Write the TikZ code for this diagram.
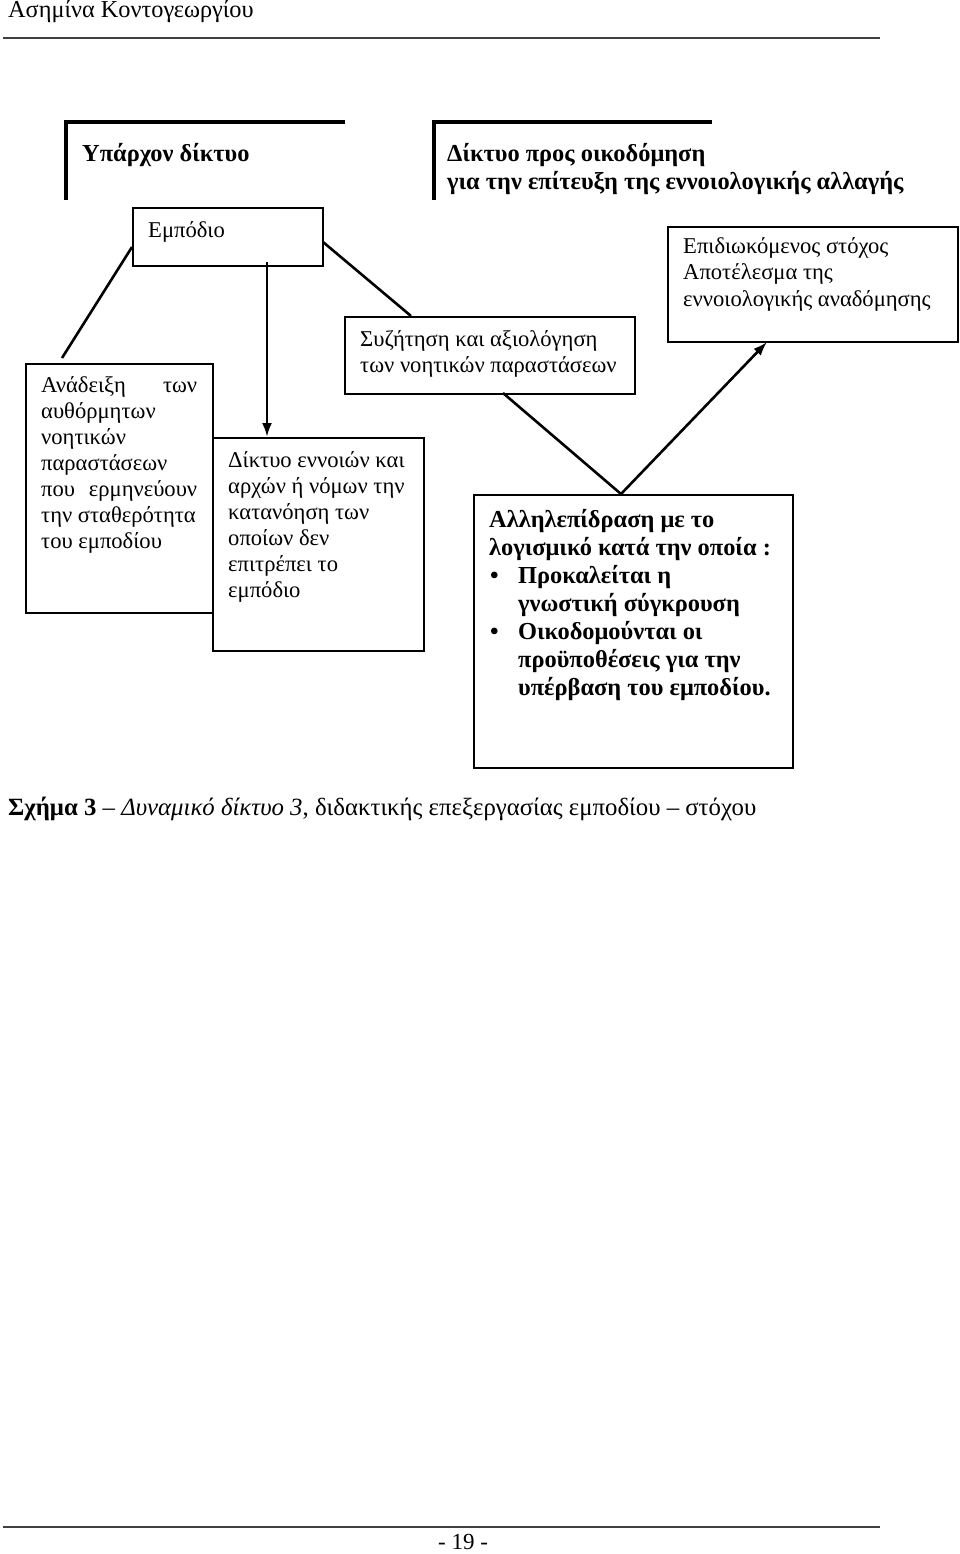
\documentclass[tikz,border=0pt]{standalone}
\usepackage{fontspec}
\setmainfont{Liberation Serif}
\usetikzlibrary{arrows.meta}
\tikzset{
  boxst/.style={draw, line width=1.6pt, inner sep=0pt, anchor=north west},
  conn/.style={line width=2.6pt},
  arr/.style={line width=2.6pt, -{Latex[length=14pt,width=10pt]}},
  framest/.style={line width=4pt, line join=miter},
  txt/.style={anchor=base west, inner sep=0pt, font=\fontsize{22.6}{26}\selectfont},
  btxt/.style={anchor=base west, inner sep=0pt, font=\fontsize{24.4}{28}\selectfont\bfseries},
  rule/.style={line width=1.2pt, draw=black!75},
}
\begin{document}
\begin{tikzpicture}[x=1pt,y=-1pt]
\useasboundingbox[fill=white] (0,0) rectangle (960,1554);
% page header / footer
\node[anchor=base west, inner sep=0pt, font=\fontsize{24.3}{28}\selectfont] (hdr) at (8,18) {Ασημίνα Κοντογεωργίου};
\coordinate (hrA) at (3,38); \coordinate (hrB) at (880,38);
\draw[rule] (hrA) -- (hrB);
\coordinate (frA) at (3,1527); \coordinate (frB) at (880,1527);
\draw[rule] (frA) -- (frB);
\node[anchor=base, inner sep=0pt, font=\fontsize{23}{28}\selectfont] (pg) at (463,1549) {- 19 -};
% frames
\coordinate (f1a) at (66,200); \coordinate (f1b) at (66,122); \coordinate (f1c) at (345,122);
\draw[framest] (f1a) -- (f1b) -- (f1c);
\coordinate (f2a) at (434,200); \coordinate (f2b) at (434,122); \coordinate (f2c) at (712,122);
\draw[framest] (f2a) -- (f2b) -- (f2c);
\node[btxt] (t1) at (82,162) {Υπάρχον δίκτυο};
\node[btxt] (t2) at (447,162) {\parbox[t]{500pt}{Δίκτυο προς οικοδόμηση\\για την επίτευξη της εννοιολογικής αλλαγής}};
% boxes
\node[boxst, minimum width=190pt, minimum height=58pt] (emp) at (132,207) {};
\node[txt] (empT) at (148,238) {Εμπόδιο};
\node[boxst, minimum width=187pt, minimum height=249pt] (left) at (25,363) {};
\node[txt] (leftT) at (41,392) {\parbox[t]{156pt}{\raggedright Ανάδειξη\hfill των\\ αυθόρμητων\\ νοητικών\\ παραστάσεων\\ που\hfill ερμηνεύουν\\ την σταθερότητα\\ του εμποδίου}};
\node[boxst, minimum width=211pt, minimum height=213pt] (mid) at (212,437) {};
\node[txt] (midT) at (228,467) {\parbox[t]{190pt}{\raggedright Δίκτυο εννοιών και\\ αρχών ή νόμων την\\ κατανόηση των\\ οποίων δεν\\ επιτρέπει το\\ εμπόδιο}};
\node[boxst, minimum width=290pt, minimum height=77pt] (syz) at (344,316) {};
\node[txt] (syzT) at (360,346) {\parbox[t]{270pt}{\raggedright Συζήτηση και αξιολόγηση\\ των νοητικών παραστάσεων}};
\node[boxst, minimum width=290pt, minimum height=115pt] (goal) at (667,226) {};
\node[txt] (goalT) at (683,254) {\parbox[t]{270pt}{\raggedright Επιδιωκόμενος στόχος\\ Αποτέλεσμα της\\ εννοιολογικής αναδόμησης}};
\node[boxst, minimum width=319pt, minimum height=273pt] (inter) at (473,494) {};
\node[btxt] (interT) at (489,527) {\parbox[t]{300pt}{\raggedright Αλληλεπίδραση με το\\ λογισμικό κατά την οποία :\\
\makebox[29pt][l]{\hspace{1pt}\textbullet}Προκαλείται η\\
\hspace*{29pt}γνωστική σύγκρουση\\
\makebox[29pt][l]{\hspace{1pt}\textbullet}Οικοδομούνται οι\\
\hspace*{29pt}προϋποθέσεις για την\\
\hspace*{29pt}υπέρβαση του εμποδίου.}};
% connectors
\coordinate (c1s) at (132,247); \coordinate (c1e) at (62,358);
\draw[conn] (c1s) -- (c1e);
\coordinate (c2s) at (267,262);
\draw[arr] (c2s) -- (c2s |- mid.north);
\coordinate (c3s) at (323,242); \coordinate (c3e) at (411,316);
\draw[conn] (c3s) -- (c3e);
\coordinate (c4s) at (503,393); \coordinate (c4e) at (621,494);
\draw[conn] (c4s) -- (c4e);
\coordinate (c5e) at (767,342);
\draw[arr] (c4e) -- (c5e);
% caption
\node[anchor=base west, inner sep=0pt, font=\fontsize{24.8}{28}\selectfont] (cap) at (8,815) {{\bfseries Σχήμα 3} – {\itshape Δυναμικό δίκτυο 3}, διδακτικής επεξεργασίας εμποδίου – στόχου};
\end{tikzpicture}
\end{document}
